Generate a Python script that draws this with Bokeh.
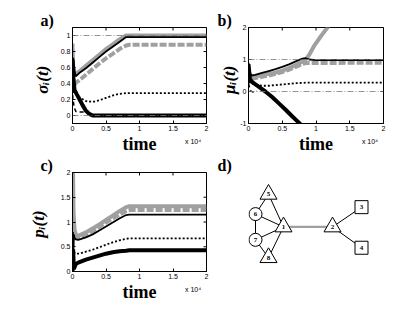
import numpy as np
from math import pi
from bokeh.plotting import figure
from bokeh.layouts import row, column
from bokeh.models import Range1d, FixedTicker, Span, LinearAxis
from bokeh.core.properties import value
from bokeh.embed import file_html
from bokeh.resources import INLINE

# ---------------- data ----------------
XTICKS = [0, 5000, 10000, 15000, 20000]
XTICK_LABELS = ["0", "0.5", "1", "1.5", "2"]
X_EXPONENT = "x 10\u2074"
X_EXPONENT_AT = 18000

# panel a : sigma_i(t)
YA_TICKS = [0, 0.2, 0.4, 0.6, 0.8, 1]
YA_LABELS = ["0", "0.2", "0.4", "0.6", "0.8", "1"]
ta_up = [0, 100, 300, 500, 1000, 2000, 3000, 4000, 5000, 6000, 7000, 8000, 8500, 20000]
sa_gray_up = [0.90, 0.62, 0.54, 0.52, 0.55, 0.62, 0.69, 0.76, 0.83, 0.89, 0.95, 1.00, 1.00, 1.00]
sa_black_up = [0.70, 0.72, 0.56, 0.49, 0.53, 0.59, 0.66, 0.73, 0.80, 0.86, 0.92, 0.98, 0.98, 0.98]
ta_dash = [300, 500, 1000, 2000, 3000, 4000, 5000, 6000, 7000, 8000, 8500, 20000]
sa_gray_dash = [0.38, 0.41, 0.44, 0.51, 0.58, 0.65, 0.715, 0.77, 0.83, 0.875, 0.885, 0.885]
ta_low = [0, 150, 300, 600, 1000, 1500, 2000, 2500, 3000, 20000]
sa_black_low = [0.70, 0.45, 0.32, 0.27, 0.21, 0.13, 0.06, 0.02, 0.0, 0.0]
ta_dot = [0, 500, 1000, 2000, 3000, 4000, 5000, 6000, 7000, 8000, 9000, 20000]
sa_dot = [0.30, 0.28, 0.23, 0.18, 0.17, 0.19, 0.22, 0.25, 0.27, 0.28, 0.28, 0.28]
ta_small = [0, 250, 500, 1000, 1500, 2000]
sa_small = [0.26, 0.10, 0.05, 0.045, 0.045, 0.045]

# panel b : mu_i(t)
YB_TICKS = [-1, 0, 1, 2]
YB_LABELS = ["-1", "0", "1", "2"]
tb_up = [0, 200, 400, 1000, 2000, 3000, 4000, 5000, 6000, 7000, 8000, 8500, 9000, 10000, 20000]
mb_black_up = [0.90, 0.60, 0.50, 0.52, 0.58, 0.64, 0.70, 0.77, 0.85, 0.94, 1.03, 1.04, 1.00, 0.98, 0.98]
tb_gray = [0, 200, 400, 1000, 2000, 3000, 4000, 5000, 6000, 7000, 8000, 8400, 9000, 9800, 10800, 11900]
mb_gray = [0.70, 0.50, 0.45, 0.47, 0.51, 0.55, 0.59, 0.65, 0.73, 0.83, 0.93, 0.98, 1.15, 1.45, 1.75, 2.05]
tb_dash = [400, 1000, 2000, 3000, 4000, 5000, 6000, 7000, 8000, 8500, 20000]
mb_gray_dash = [0.38, 0.42, 0.46, 0.50, 0.55, 0.61, 0.68, 0.77, 0.86, 0.89, 0.90]
tb_dot = [0, 500, 1000, 2000, 3000, 4000, 5000, 6000, 7000, 8000, 9000, 20000]
mb_dot = [0.30, 0.26, 0.21, 0.18, 0.18, 0.20, 0.22, 0.24, 0.26, 0.27, 0.28, 0.28]
tb_low = [0, 200, 500, 1500, 2500, 3500, 4500, 5500, 6500, 7700]
mb_black_low = [0.85, 0.40, 0.30, 0.15, 0.00, -0.17, -0.37, -0.57, -0.78, -1.02]
tb_small = [0, 300, 700, 1200]
mb_small = [0.25, 0.02, -0.02, 0.02]

# panel c : p_i(t)
YC_TICKS = [0, 0.5, 1, 1.5, 2]
YC_LABELS = ["0", "0.5", "1", "1.5", "2"]
tc_gray = [0, 30, 80, 150, 300, 500, 850, 2000, 3000, 4000, 5000, 6000, 7000, 8000, 8500, 20000]
pc_gray = [0.5, 2.0, 2.0, 1.2, 0.85, 0.75, 0.72, 0.79, 0.87, 0.95, 1.04, 1.13, 1.22, 1.30, 1.32, 1.32]
tc_dash = [300, 500, 850, 2000, 3000, 4000, 5000, 6000, 7000, 8000, 8500, 20000]
pc_gray_dash = [0.75, 0.70, 0.68, 0.74, 0.82, 0.90, 0.99, 1.07, 1.15, 1.22, 1.24, 1.24]
tc_up = [0, 60, 120, 200, 300, 500, 850, 2000, 3000, 4000, 5000, 6000, 7000, 8000, 8500, 20000]
pc_black_up = [0.0, 0.8, 0.3, 0.75, 0.68, 0.65, 0.64, 0.69, 0.75, 0.83, 0.91, 0.99, 1.07, 1.14, 1.15, 1.15]
tc_dot = [0, 300, 500, 1000, 2000, 3000, 4000, 5000, 6000, 7000, 8000, 8500, 20000]
pc_dot = [0.2, 0.38, 0.36, 0.36, 0.40, 0.44, 0.49, 0.54, 0.59, 0.63, 0.66, 0.67, 0.67]
tc_low = [0, 100, 200, 500, 850, 2000, 3000, 4000, 5000, 6000, 7000, 8000, 8500, 20000]
pc_black_low = [0.0, 0.45, 0.05, 0.15, 0.18, 0.24, 0.28, 0.32, 0.36, 0.39, 0.41, 0.42, 0.43, 0.43]

# panel d : network (layout coordinates)
node_ids = ["1", "2", "3", "4", "5", "6", "7", "8"]
node_x = [283, 332, 361, 361, 268, 255, 255, 268]
node_y = [226, 226, 206, 247, 193, 213, 239, 257]
node_shape = ["triangle", "triangle", "square", "square", "triangle", "circle", "circle", "triangle"]
edge_src = ["5", "5", "6", "6", "7", "7", "8", "2", "2", "1"]
edge_dst = ["6", "1", "1", "7", "1", "8", "1", "3", "4", "2"]

# ---------------- styling ----------------
GRAY = "#a0a0a0"
REF = "#7a7a7a"
SERIF = "Liberation Serif"
SANS = "Liberation Sans"
NBSP = "\u00a0"


def style_title(p, offset):
    p.title.align = "left"
    p.title.offset = offset
    p.title.standoff = -3
    p.title.text_font = SERIF
    p.title.text_font_style = "bold"
    p.title.text_font_size = "16px"
    p.title.text_color = "black"


def base_fig(width, height, yr, yticks, ylabels, ylabel, ylabel_standoff,
             tag, tag_offset, bl, br, bt, bb, exp_standoff, time_standoff):
    p = figure(width=width, height=height, x_range=Range1d(0, 20000),
               y_range=Range1d(*yr), output_backend="svg", toolbar_location=None,
               title=tag, min_border_left=bl, min_border_right=br,
               min_border_top=bt, min_border_bottom=bb)
    style_title(p, tag_offset)
    p.grid.visible = False
    p.outline_line_color = "black"
    p.outline_line_width = 1
    p.background_fill_color = "white"
    p.border_fill_color = "white"
    p.xaxis.ticker = FixedTicker(ticks=XTICKS)
    p.yaxis.ticker = FixedTicker(ticks=yticks)
    p.xaxis.major_label_overrides = dict(zip(XTICKS, XTICK_LABELS))
    p.yaxis.major_label_overrides = dict(zip(yticks, ylabels))
    # second, bare axis below: carries the exponent and the "time" label
    ax2 = LinearAxis(ticker=FixedTicker(ticks=[X_EXPONENT_AT]),
                     major_label_overrides={X_EXPONENT_AT: X_EXPONENT})
    p.add_layout(ax2, "below")
    for ax in p.axis:
        ax.major_tick_in = 3
        ax.major_tick_out = 0
        ax.minor_tick_line_color = None
        ax.axis_line_color = "black"
        ax.major_tick_line_color = "black"
        ax.major_label_text_font = SANS
        ax.major_label_text_font_size = "7px"
        ax.major_label_text_color = "black"
        ax.major_label_standoff = 2
        ax.axis_label_text_font = SERIF
        ax.axis_label_text_color = "black"
    ax2.axis_line_color = None
    ax2.major_tick_line_color = None
    ax2.major_tick_in = 0
    ax2.major_label_standoff = exp_standoff
    ax2.axis_label = "time"
    ax2.axis_label_text_font_style = "bold"
    ax2.axis_label_text_font_size = "18px"
    ax2.axis_label_standoff = time_standoff
    p.yaxis.axis_label = ylabel
    p.yaxis.axis_label_text_font_style = "bold italic"
    p.yaxis.axis_label_text_font_size = "17px"
    p.yaxis.axis_label_standoff = ylabel_standoff
    # mirrored inward ticks on top and right (half of each dash is clipped by the frame)
    p.scatter(XTICKS, [yr[1]] * len(XTICKS), marker="dash", angle=pi / 2, size=6,
              line_color="black", line_width=1)
    p.scatter([20000] * len(yticks), yticks, marker="dash", size=6,
              line_color="black", line_width=1)
    return p


def refs(p):
    for loc in (1, 0):
        p.add_layout(Span(location=loc, dimension="width", line_color=REF,
                          line_width=0.8, line_dash="6 2 1 2"))


H1 = 156
H2 = 173

# ---------------- panel a ----------------
YA = (-0.1, 1.1)
fa = base_fig(216, H1, YA, YA_TICKS, YA_LABELS, "\u03c3\u1d62(t)" + NBSP * 2, 6,
              "a)", -32, 72, 10, 27, 28, 4, -14)
refs(fa)
fa.line(ta_up, sa_gray_up, line_color=GRAY, line_width=4)
fa.line(ta_dash, sa_gray_dash, line_color=GRAY, line_width=4, line_dash="7 2")
fa.line(ta_low, sa_black_low, line_color="black", line_width=4)
fa.line(ta_up, sa_black_up, line_color="black", line_width=1.8)
fa.line(ta_dot, sa_dot, line_color="black", line_width=1.8, line_dash="2 2")
fa.line(ta_small, sa_small, line_color="black", line_width=1.5, line_dash="4 3")

# ---------------- panel b ----------------
YB = (-1, 2)
fb = base_fig(192, H1, YB, YB_TICKS, YB_LABELS, "\u03bc\u1d62(t)" + NBSP * 2, -2,
              "b)", -31, 32, 25, 27, 28, 4, -14)
refs(fb)
fb.line(tb_gray, mb_gray, line_color=GRAY, line_width=4)
fb.line(tb_dash, mb_gray_dash, line_color=GRAY, line_width=4, line_dash="7 2")
fb.line(tb_low, mb_black_low, line_color="black", line_width=4)
fb.line(tb_up, mb_black_up, line_color="black", line_width=1.8)
fb.line(tb_dot, mb_dot, line_color="black", line_width=1.8, line_dash="2 2")
fb.line(tb_small, mb_small, line_color="black", line_width=1.5, line_dash="4 3")

# ---------------- panel c ----------------
YC = (0, 2)
fc = base_fig(216, H2, YC, YC_TICKS, YC_LABELS, "p\u1d62(t)" + NBSP, 10,
              "c)", -32, 72, 10, 15, 58, 4, -14)
fc.line(tc_gray, pc_gray, line_color=GRAY, line_width=4)
fc.line(tc_dash, pc_gray_dash, line_color=GRAY, line_width=4, line_dash="7 2")
fc.line(tc_low, pc_black_low, line_color="black", line_width=4)
fc.line(tc_up, pc_black_up, line_color="black", line_width=1.8)
fc.line(tc_dot, pc_dot, line_color="black", line_width=1.8, line_dash="2 2")

# ---------------- panel d ----------------
fd = figure(width=192, height=H2, x_range=Range1d(248, 383), y_range=Range1d(271, 171),
            output_backend="svg", toolbar_location=None, title="d)",
            min_border_left=32, min_border_right=25, min_border_top=15, min_border_bottom=58)
style_title(fd, -31)
fd.axis.visible = False
fd.grid.visible = False
fd.outline_line_color = None
pos = {n: (x, y) for n, x, y in zip(node_ids, node_x, node_y)}
for s, d in zip(edge_src, edge_dst):
    gray_edge = (s, d) == ("1", "2")
    fd.line([pos[s][0], pos[d][0]], [pos[s][1], pos[d][1]],
            line_color=GRAY if gray_edge else "black",
            line_width=2.2 if gray_edge else 1)
sizes = {"triangle": 17, "circle": 13, "square": 13}
for shape in ("triangle", "circle", "square"):
    xs = [x for x, sh in zip(node_x, node_shape) if sh == shape]
    ys = [y for y, sh in zip(node_y, node_shape) if sh == shape]
    fd.scatter(xs, ys, marker=shape, size=sizes[shape], fill_color="white",
               line_color="black", line_width=1)
fd.text(node_x, node_y, text=node_ids, text_font=value(SERIF), text_font_style="bold",
        text_font_size="7px", text_align="center", text_baseline="middle")

layout = row(column(fa, fc), column(fb, fd))
open("out.html", "w").write(file_html(layout, INLINE))
